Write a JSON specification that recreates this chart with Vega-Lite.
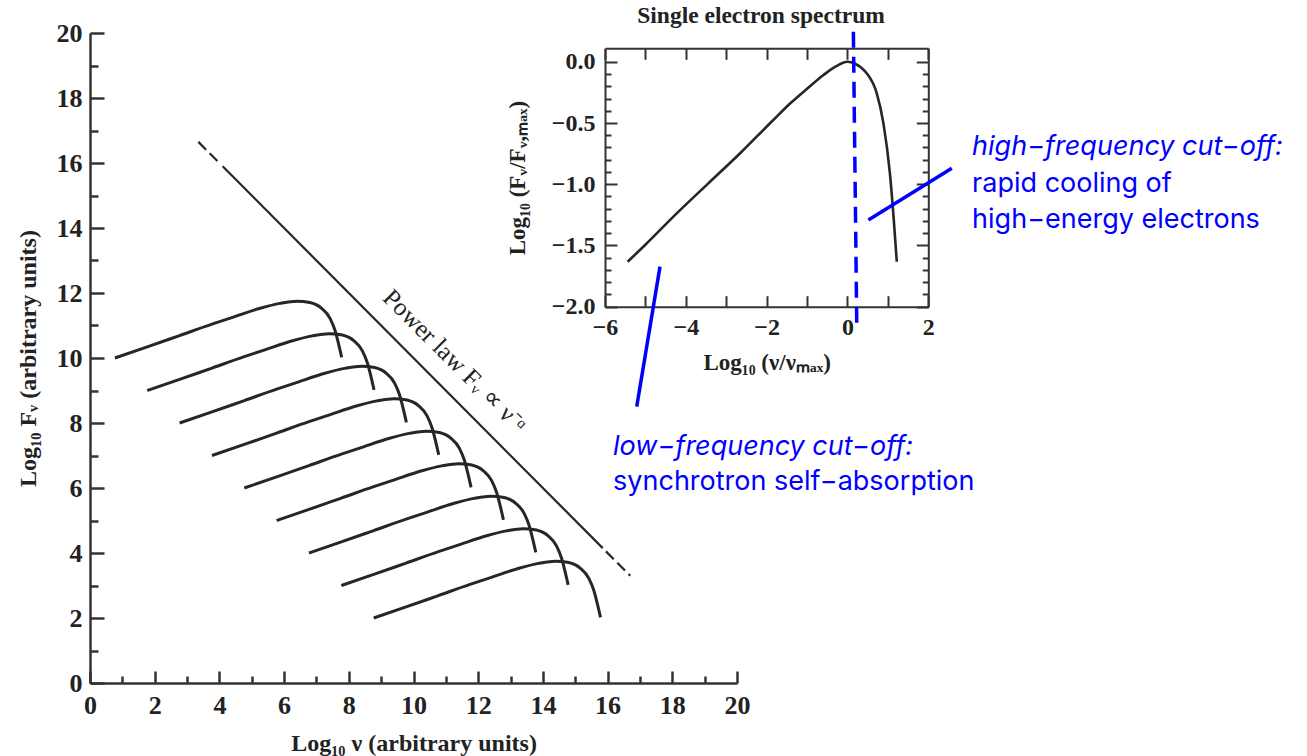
{
  "$schema": "https://vega.github.io/schema/vega-lite/v6.json",
  "width": 647,
  "height": 650,
  "autosize": {"type": "none"},
  "padding": {"left": 90, "top": 33, "right": 570, "bottom": 73},
  "background": "white",
  "config": {
    "view": {"stroke": null},
    "axis": {
      "grid": false,
      "labelFont": "Liberation Serif",
      "titleFont": "Liberation Serif",
      "labelColor": "#222",
      "titleColor": "#222",
      "labelFontWeight": "bold",
      "titleFontWeight": "bold",
      "domainColor": "#333",
      "tickColor": "#333",
      "labelOverlap": false,
      "labelFlush": false,
      "labelBound": false
    }
  },
  "datasets": {
    "curves": [
      {"c":0,"x":0.77,"y":10},{"c":0,"x":1.77,"y":10.34},{"c":0,"x":2.77,"y":10.69},{"c":0,"x":3.77,"y":11.04},{"c":0,"x":4.43,"y":11.26},{"c":0,"x":5.26,"y":11.53},{"c":0,"x":5.87,"y":11.68},{"c":0,"x":6.39,"y":11.75},{"c":0,"x":6.8,"y":11.71},{"c":0,"x":6.99,"y":11.64},{"c":0,"x":7.16,"y":11.53},{"c":0,"x":7.42,"y":11.22},{"c":0,"x":7.57,"y":10.86},{"c":0,"x":7.68,"y":10.45},{"c":0,"x":7.78,"y":10.02},
      {"c":1,"x":1.77,"y":9},{"c":1,"x":2.77,"y":9.34},{"c":1,"x":3.77,"y":9.69},{"c":1,"x":4.77,"y":10.04},{"c":1,"x":5.43,"y":10.26},{"c":1,"x":6.26,"y":10.53},{"c":1,"x":6.87,"y":10.68},{"c":1,"x":7.39,"y":10.75},{"c":1,"x":7.8,"y":10.71},{"c":1,"x":7.99,"y":10.64},{"c":1,"x":8.16,"y":10.53},{"c":1,"x":8.42,"y":10.22},{"c":1,"x":8.57,"y":9.86},{"c":1,"x":8.68,"y":9.45},{"c":1,"x":8.78,"y":9.02},
      {"c":2,"x":2.77,"y":8},{"c":2,"x":3.77,"y":8.34},{"c":2,"x":4.77,"y":8.69},{"c":2,"x":5.77,"y":9.04},{"c":2,"x":6.43,"y":9.26},{"c":2,"x":7.26,"y":9.53},{"c":2,"x":7.87,"y":9.68},{"c":2,"x":8.39,"y":9.75},{"c":2,"x":8.8,"y":9.71},{"c":2,"x":8.99,"y":9.64},{"c":2,"x":9.16,"y":9.53},{"c":2,"x":9.42,"y":9.22},{"c":2,"x":9.57,"y":8.86},{"c":2,"x":9.68,"y":8.45},{"c":2,"x":9.78,"y":8.02},
      {"c":3,"x":3.77,"y":7},{"c":3,"x":4.77,"y":7.34},{"c":3,"x":5.77,"y":7.69},{"c":3,"x":6.77,"y":8.04},{"c":3,"x":7.43,"y":8.26},{"c":3,"x":8.26,"y":8.53},{"c":3,"x":8.87,"y":8.68},{"c":3,"x":9.39,"y":8.75},{"c":3,"x":9.8,"y":8.71},{"c":3,"x":9.99,"y":8.64},{"c":3,"x":10.16,"y":8.53},{"c":3,"x":10.42,"y":8.22},{"c":3,"x":10.57,"y":7.86},{"c":3,"x":10.68,"y":7.45},{"c":3,"x":10.78,"y":7.02},
      {"c":4,"x":4.77,"y":6},{"c":4,"x":5.77,"y":6.34},{"c":4,"x":6.77,"y":6.69},{"c":4,"x":7.77,"y":7.04},{"c":4,"x":8.43,"y":7.26},{"c":4,"x":9.26,"y":7.53},{"c":4,"x":9.87,"y":7.68},{"c":4,"x":10.39,"y":7.75},{"c":4,"x":10.8,"y":7.71},{"c":4,"x":10.99,"y":7.64},{"c":4,"x":11.16,"y":7.53},{"c":4,"x":11.42,"y":7.22},{"c":4,"x":11.57,"y":6.86},{"c":4,"x":11.68,"y":6.45},{"c":4,"x":11.78,"y":6.02},
      {"c":5,"x":5.77,"y":5},{"c":5,"x":6.77,"y":5.34},{"c":5,"x":7.77,"y":5.69},{"c":5,"x":8.77,"y":6.04},{"c":5,"x":9.43,"y":6.26},{"c":5,"x":10.26,"y":6.53},{"c":5,"x":10.87,"y":6.68},{"c":5,"x":11.39,"y":6.75},{"c":5,"x":11.8,"y":6.71},{"c":5,"x":11.99,"y":6.64},{"c":5,"x":12.16,"y":6.53},{"c":5,"x":12.42,"y":6.22},{"c":5,"x":12.57,"y":5.86},{"c":5,"x":12.68,"y":5.45},{"c":5,"x":12.78,"y":5.02},
      {"c":6,"x":6.77,"y":4},{"c":6,"x":7.77,"y":4.34},{"c":6,"x":8.77,"y":4.69},{"c":6,"x":9.77,"y":5.04},{"c":6,"x":10.43,"y":5.26},{"c":6,"x":11.26,"y":5.53},{"c":6,"x":11.87,"y":5.68},{"c":6,"x":12.39,"y":5.75},{"c":6,"x":12.8,"y":5.71},{"c":6,"x":12.99,"y":5.64},{"c":6,"x":13.16,"y":5.53},{"c":6,"x":13.42,"y":5.22},{"c":6,"x":13.57,"y":4.86},{"c":6,"x":13.68,"y":4.45},{"c":6,"x":13.78,"y":4.02},
      {"c":7,"x":7.77,"y":3},{"c":7,"x":8.77,"y":3.34},{"c":7,"x":9.77,"y":3.69},{"c":7,"x":10.77,"y":4.04},{"c":7,"x":11.43,"y":4.26},{"c":7,"x":12.26,"y":4.53},{"c":7,"x":12.87,"y":4.68},{"c":7,"x":13.39,"y":4.75},{"c":7,"x":13.8,"y":4.71},{"c":7,"x":13.99,"y":4.64},{"c":7,"x":14.16,"y":4.53},{"c":7,"x":14.42,"y":4.22},{"c":7,"x":14.57,"y":3.86},{"c":7,"x":14.68,"y":3.45},{"c":7,"x":14.78,"y":3.02},
      {"c":8,"x":8.77,"y":2},{"c":8,"x":9.77,"y":2.34},{"c":8,"x":10.77,"y":2.69},{"c":8,"x":11.77,"y":3.04},{"c":8,"x":12.43,"y":3.26},{"c":8,"x":13.26,"y":3.53},{"c":8,"x":13.87,"y":3.68},{"c":8,"x":14.39,"y":3.75},{"c":8,"x":14.8,"y":3.71},{"c":8,"x":14.99,"y":3.64},{"c":8,"x":15.16,"y":3.53},{"c":8,"x":15.42,"y":3.22},{"c":8,"x":15.57,"y":2.86},{"c":8,"x":15.68,"y":2.45},{"c":8,"x":15.78,"y":2.02}
    ],
    "inset": [
      {"x":-5.44,"y":-1.633},{"x":-5.02,"y":-1.5},{"x":-4.2,"y":-1.23},{"x":-3.45,"y":-0.995},{"x":-2.65,"y":-0.745},{"x":-1.88,"y":-0.49},{"x":-1.4,"y":-0.335},{"x":-1.0,"y":-0.22},{"x":-0.6,"y":-0.11},{"x":-0.3,"y":-0.04},{"x":0,"y":0},{"x":0.2,"y":-0.018},{"x":0.35,"y":-0.05},{"x":0.48,"y":-0.095},{"x":0.725,"y":-0.258},{"x":0.89,"y":-0.503},{"x":1.05,"y":-0.911},{"x":1.14,"y":-1.265},{"x":1.22,"y":-1.633}
    ]
  },
  "layer": [
    {
      "encoding": {
        "x": {"field": "x", "type": "quantitative",
          "scale": {"domain": [0, 20], "nice": false, "zero": false},
          "axis": {"orient": "bottom", "values": [0,1,2,3,4,5,6,7,8,9,10,11,12,13,14,15,16,17,18,19,20],
            "labelExpr": "datum.value % 2 === 0 ? datum.label : ''",
            "tickSize": {"condition": {"test": "datum.value % 2 === 0", "value": -12}, "value": -7},
            "labelPadding": 21, "labelFontSize": 26, "domainWidth": 2.5, "tickWidth": 2.5,
            "title": "Log₁₀ ν (arbitrary units)", "titleFontSize": 24, "titlePadding": 8}},
        "y": {"field": "y", "type": "quantitative",
          "scale": {"domain": [0, 20], "nice": false, "zero": false},
          "axis": {"orient": "left", "values": [0,1,2,3,4,5,6,7,8,9,10,11,12,13,14,15,16,17,18,19,20],
            "labelExpr": "datum.value % 2 === 0 ? datum.label : ''",
            "tickSize": {"condition": {"test": "datum.value % 2 === 0", "value": -14}, "value": -8},
            "labelPadding": 22, "labelFontSize": 26, "domainWidth": 2.5, "tickWidth": 2.5,
            "title": "Log₁₀ Fᵥ (arbitrary units)", "titleFontSize": 24, "titlePadding": 16}}
      },
      "layer": [
        {"data": {"name": "curves"},
         "mark": {"type": "line", "interpolate": "monotone", "color": "#262626", "strokeWidth": 3},
         "encoding": {"detail": {"field": "c"}}},
        {"data": {"values": [{"x": 4.1, "y": 15.9}, {"x": 15.85, "y": 4.15}]},
         "mark": {"type": "line", "color": "#262626", "strokeWidth": 2.2}},
        {"data": {"values": [{"s": "a", "x": 3.35, "y": 16.65}, {"s": "a", "x": 4.02, "y": 15.98}, {"s": "b", "x": 15.95, "y": 4.05}, {"s": "b", "x": 16.7, "y": 3.3}]},
         "mark": {"type": "line", "color": "#262626", "strokeWidth": 2.2, "strokeDash": [11, 5]},
         "encoding": {"detail": {"field": "s"}}},
        {"data": {"values": [{"x": 11.28, "y": 9.9, "t": "Power law Fᵥ ∝ ν⁻ᵅ"}]},
         "mark": {"type": "text", "angle": 45, "font": "Liberation Serif", "fontSize": 25, "align": "center", "baseline": "middle", "color": "#222"},
         "encoding": {"text": {"field": "t"}}}
      ]
    },
    {
      "encoding": {
        "x": {"field": "x", "type": "quantitative",
          "scale": {"domain": [-6, 2], "range": [515, 838.3], "nice": false, "zero": false},
          "axis": {"orient": "bottom", "offset": -376.3, "values": [-6,-5,-4,-3,-2,-1,0,1,2],
            "labelExpr": "datum.value % 2 === 0 ? datum.label : ''",
            "tickSize": -11, "labelPadding": 20, "labelFontSize": 24, "domainWidth": 2, "tickWidth": 2,
            "title": "Log₁₀ (ν/νₘₐₓ)", "titleFontSize": 23, "titlePadding": 12}},
        "y": {"field": "y", "type": "quantitative",
          "scale": {"domain": [-2, 0.11], "range": [273.7, 15.3], "nice": false, "zero": false},
          "axis": {"orient": "left", "offset": -515,
            "values": [-2,-1.9,-1.8,-1.7,-1.6,-1.5,-1.4,-1.3,-1.2,-1.1,-1,-0.9,-0.8,-0.7,-0.6,-0.5,-0.4,-0.3,-0.2,-0.1,0],
            "format": ".1f",
            "labelExpr": "abs(datum.value*2 - round(datum.value*2)) < 0.01 ? datum.label : ''",
            "tickSize": {"condition": {"test": "abs(datum.value*2 - round(datum.value*2)) < 0.01", "value": -12}, "value": -6},
            "labelPadding": 22, "labelFontSize": 24, "domainWidth": 2, "tickWidth": 2,
            "title": "Log₁₀ (Fᵥ/Fᵥ,ₘₐₓ)", "titleFontSize": 23, "titlePadding": 22}}
      },
      "layer": [
        {"data": {"name": "inset"},
         "mark": {"type": "line", "interpolate": "monotone", "color": "#262626", "strokeWidth": 2.6}},
        {"data": {"values": [{"s": "low", "x": -4.639, "y": -1.673}, {"s": "low", "x": -5.215, "y": -2.816}, {"s": "high", "x": 0.517, "y": -1.292}, {"s": "high", "x": 2.582, "y": -0.87}]},
         "mark": {"type": "line", "color": "#0000ff", "strokeWidth": 3.5},
         "encoding": {"detail": {"field": "s"}}},
        {"data": {"values": [{"x": 0.146, "y": 0.245}, {"x": 0.23, "y": -2.149}]},
         "mark": {"type": "line", "color": "#0000ff", "strokeWidth": 3.5, "strokeDash": [16, 9]}},
        {"data": {"values": [{"x": 3.084, "y": -0.762, "t": "high−frequency cut−off:"}, {"x": -5.8, "y": -3.211, "t": "low−frequency cut−off:"}]},
         "mark": {"type": "text", "align": "left", "baseline": "alphabetic", "font": "Inter", "fontStyle": "italic", "fontSize": 27, "color": "#0000ff"},
         "encoding": {"text": {"field": "t"}}},
        {"data": {"values": [{"x": 3.084, "y": -1.06, "t": "rapid cooling of"}, {"x": 3.084, "y": -1.357, "t": "high−energy electrons"}, {"x": -5.8, "y": -3.496, "t": "synchrotron self−absorption"}]},
         "mark": {"type": "text", "align": "left", "baseline": "alphabetic", "font": "Inter", "fontSize": 27, "color": "#0000ff"},
         "encoding": {"text": {"field": "t"}}},
        {"data": {"values": [{"x": -2.14, "y": 0.316, "t": "Single electron spectrum"}]},
         "mark": {"type": "text", "align": "center", "baseline": "alphabetic", "font": "Liberation Serif", "fontWeight": "bold", "fontSize": 23.5, "color": "#222"},
         "encoding": {"text": {"field": "t"}}}
      ]
    },
    {
      "data": {"name": "inset"},
      "mark": {"type": "line", "opacity": 0},
      "encoding": {
        "x": {"field": "x", "type": "quantitative",
          "scale": {"domain": [-6, 2], "range": [515, 838.3], "nice": false, "zero": false},
          "axis": {"orient": "top", "offset": -15.3, "values": [-6,-5,-4,-3,-2,-1,0,1,2],
            "labels": false, "tickSize": -11, "domainWidth": 2, "tickWidth": 2, "title": null}},
        "y": {"field": "y", "type": "quantitative",
          "scale": {"domain": [-2, 0.11], "range": [273.7, 15.3], "nice": false, "zero": false},
          "axis": {"orient": "right", "offset": 191.3,
            "values": [-2,-1.9,-1.8,-1.7,-1.6,-1.5,-1.4,-1.3,-1.2,-1.1,-1,-0.9,-0.8,-0.7,-0.6,-0.5,-0.4,-0.3,-0.2,-0.1,0],
            "labels": false,
            "tickSize": {"condition": {"test": "abs(datum.value*2 - round(datum.value*2)) < 0.01", "value": -12}, "value": -6},
            "domainWidth": 2, "tickWidth": 2, "title": null}}
      }
    }
  ],
  "resolve": {"scale": {"x": "independent", "y": "independent"}, "axis": {"x": "independent", "y": "independent"}}
}
